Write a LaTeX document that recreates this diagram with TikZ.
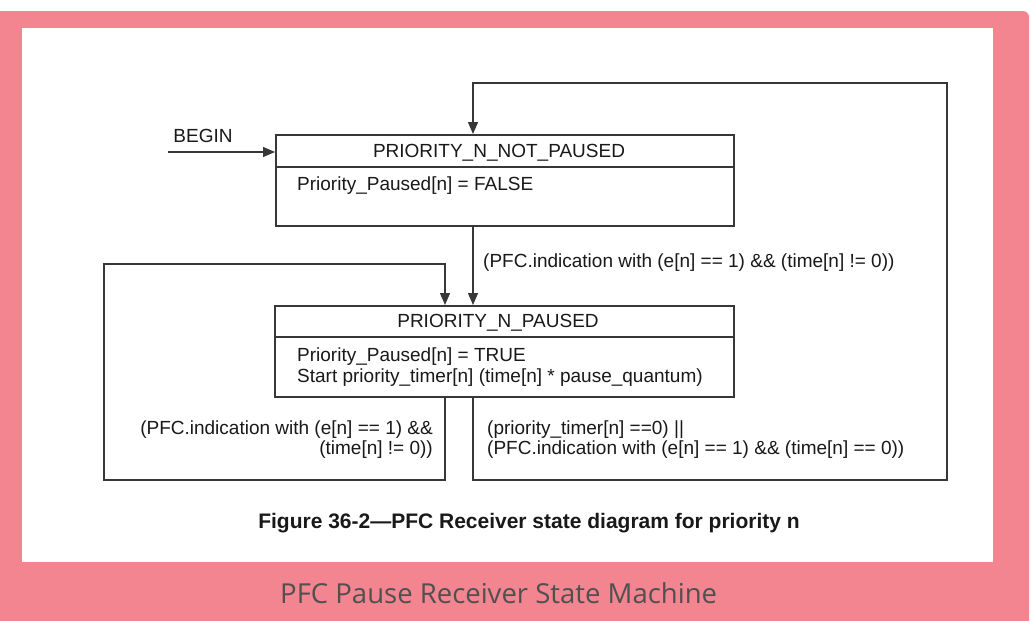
\documentclass[tikz,border=0pt]{standalone}
\usepackage{fontspec}
\setmainfont{Liberation Sans}
\newfontfamily\capfont{Open Sans}
\usetikzlibrary{arrows.meta}
\definecolor{pinkbg}{RGB}{242,133,143}
\definecolor{linec}{RGB}{55,55,55}
\definecolor{txtc}{RGB}{25,25,25}
\definecolor{capc}{RGB}{80,80,80}
\tikzset{
  statebox/.style={draw=linec, line width=1.6pt, rectangle, anchor=north west, inner sep=0pt},
  conn/.style={draw=linec, line width=1.3pt},
  arr/.style={conn, -{Triangle[length=12pt,width=10pt]}},
  lbl/.style={text=txtc, inner sep=0pt, font=\fontsize{19}{21}\selectfont},
}
\begin{document}
\begin{tikzpicture}[x=1pt,y=-1pt]
\clip (0,0) rectangle (1031,621);
% background
\fill[pinkbg] (0,11) rectangle (960,621);
\fill[pinkbg, rounded corners=6pt] (900,11) rectangle (1029,640);
\fill[white] (22,28) rectangle (993,562);

% states
\node[statebox, minimum width=458pt, minimum height=91pt] (s1) at (275,134) {};
\node[statebox, minimum width=459pt, minimum height=91pt] (s2) at (274,305) {};
\draw[draw=linec, line width=1.6pt] ([yshift=-33pt]s1.north west) -- ([yshift=-33pt]s1.north east);
\draw[draw=linec, line width=1.6pt] ([yshift=-32pt]s2.north west) -- ([yshift=-32pt]s2.north east);

\node[lbl, anchor=base] (s1h) at (499,157) {PRIORITY\_N\_NOT\_PAUSED};
\node[lbl, anchor=base west] (s1b) at (297,190) {Priority\_Paused[n] = FALSE};
\node[lbl, anchor=base] (s2h) at (498,327) {PRIORITY\_N\_PAUSED};
\node[lbl, anchor=base west] (s2b1) at (297,361) {Priority\_Paused[n] = TRUE};
\node[lbl, anchor=base west] (s2b2) at (297,382) {Start priority\_timer[n] (time[n] * pause\_quantum)};

% coordinates
\coordinate (xl) at (445,0);
\coordinate (xr) at (473,0);
\coordinate (begin) at (168,152);
\coordinate (lb) at (104,480);
\coordinate (lt) at (104,264);
\coordinate (rb) at (947,480);
\coordinate (rt) at (947,83);

% BEGIN
\node[lbl, anchor=base] (beg) at (203,142) {BEGIN};
\draw[arr] (begin) -- (s1.west |- begin);

% transition s1 -> s2
\draw[arr] (s1.south -| xr) -- (s2.north -| xr);
\node[lbl, anchor=base west] (t1) at (483,267) {(PFC.indication with (e[n] == 1) \&\& (time[n] != 0))};

% self loop on s2
\draw[arr] (s2.south -| xl) |- (lb) -- (lt) -| (s2.north -| xl);
\node[lbl, anchor=base east] (t2a) at (433,434) {(PFC.indication with (e[n] == 1) \&\&};
\node[lbl, anchor=base east] (t2b) at (433,454) {(time[n] != 0))};

% s2 -> s1
\draw[arr] (s2.south -| xr) |- (rb) -- (rt) -| (s1.north -| xr);
\node[lbl, anchor=base west] (t3a) at (487,434) {(priority\_timer[n] ==0) ||};
\node[lbl, anchor=base west] (t3b) at (487,454) {(PFC.indication with (e[n] == 1) \&\& (time[n] == 0))};

% captions
\node[text=txtc, inner sep=0pt, anchor=base, font=\fontsize{21}{24}\selectfont\bfseries] (fig) at (529,528) {Figure 36-2---PFC Receiver state diagram for priority n};
\node[text=capc, inner sep=0pt, anchor=base west, font=\capfont\fontsize{27.5}{30}\selectfont] (cap) at (280,603) {PFC Pause Receiver State Machine};
\end{tikzpicture}
\end{document}
